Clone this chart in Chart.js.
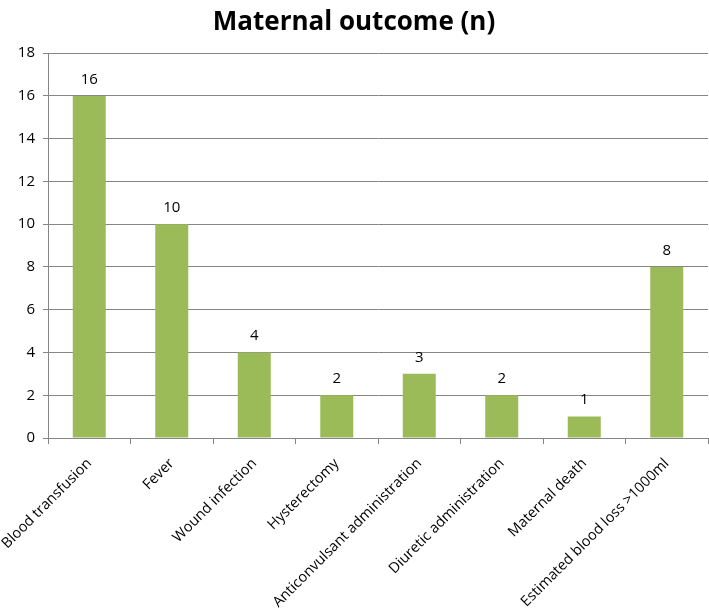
<!DOCTYPE html>
<html>
<head>
<meta charset="utf-8">
<script src="https://cdn.jsdelivr.net/npm/chart.js@4"></script>
<style>
  html, body { margin: 0; padding: 0; background: #fff; }
  #wrap { width: 709px; height: 609px; }
</style>
</head>
<body>
<div id="wrap"><canvas id="myChart" width="709" height="609"></canvas></div>
<script>
let categories = ["Blood transfusion", "Fever", "Wound infection", "Hysterectomy",
  "Anticonvulsant administration", "Diuretic administration", "Maternal death",
  "Estimated blood loss >1000ml"];
let counts = [16, 10, 4, 2, 3, 2, 1, 8];
let yTicks = [0, 2, 4, 6, 8, 10, 12, 14, 16, 18];

let fontFam = "'Open Sans', 'Noto Sans', sans-serif";

// draws the number on top of each bar
let valueLabels = {
  id: 'valueLabels',
  afterDatasetsDraw(chart) {
    let ctx = chart.ctx;
    ctx.save();
    ctx.font = "15px " + fontFam;
    ctx.fillStyle = '#000';
    ctx.textAlign = 'center';
    ctx.textBaseline = 'bottom';
    chart.getDatasetMeta(0).data.forEach((bar, i) => {
      ctx.fillText(counts[i], bar.x, bar.y - 9);
    });
    ctx.restore();
  }
};

let chart = new Chart(document.getElementById('myChart'), {
  type: 'bar',
  data: {
    labels: categories,
    datasets: [{
      data: counts,
      backgroundColor: '#9BBB59',
      barPercentage: 0.4,
      categoryPercentage: 1.0
    }]
  },
  options: {
    responsive: false,
    animation: false,
    layout: { padding: { top: 1, right: 1, left: 0, bottom: 0 } },
    plugins: {
      legend: { display: false },
      tooltip: { enabled: false },
      title: {
        display: true,
        text: 'Maternal outcome (n)',
        color: '#000',
        font: { family: fontFam, size: 26, weight: 'bold' },
        padding: { top: 6, bottom: 15 }
      }
    },
    scales: {
      x: {
        grid: { display: true, drawOnChartArea: false, offset: true, color: '#868686', tickLength: 6 },
        border: { color: '#868686' },
        ticks: {
          color: '#000',
          font: { family: fontFam, size: 14.5 },
          maxRotation: 45,
          minRotation: 45,
          autoSkip: false,
          padding: 11
        },
        afterFit(scale) {
          scale.height = 171;
          scale.paddingLeft = 0;
          scale.paddingRight = 0;
        }
      },
      y: {
        min: 0,
        max: 18,
        afterBuildTicks(scale) { scale.ticks = yTicks.map(v => ({ value: v })); },
        grid: { color: '#868686', tickLength: 5 },
        border: { color: '#868686' },
        ticks: {
          color: '#000',
          font: { family: fontFam, size: 15 },
          padding: 8
        },
        afterFit(scale) { scale.width = 48; }
      }
    }
  },
  plugins: [valueLabels]
});
</script>
</body>
</html>
